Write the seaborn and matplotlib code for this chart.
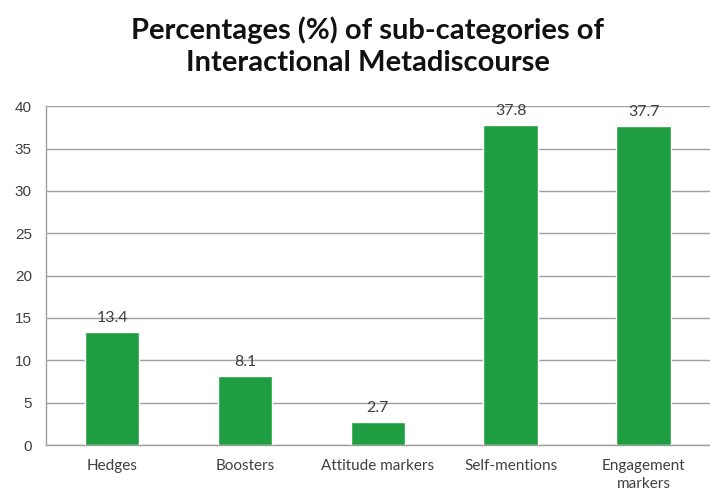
import matplotlib
matplotlib.use("Agg")
import matplotlib.pyplot as plt
import seaborn as sns
import pandas as pd

# Chart data
categories = ["Hedges", "Boosters", "Attitude markers", "Self-mentions", "Engagement\nmarkers"]
percentages = [13.4, 8.1, 2.7, 37.8, 37.7]
y_ticks = [0, 5, 10, 15, 20, 25, 30, 35, 40]

bar_color = "#1e9e40"
grid_color = "#a39e99"
text_color = "#404040"

sns.set_theme(style="white")
plt.rcParams["font.family"] = ["Lato", "DejaVu Sans"]

df = pd.DataFrame({"category": categories, "value": percentages})

fig = plt.figure(figsize=(7.1, 4.95), dpi=100)
ax = fig.add_axes([0.0644, 0.1010, 1.0 - 0.0644, 0.6843])

sns.barplot(data=df, x="category", y="value", color=bar_color, width=0.41,
            saturation=1, ax=ax, zorder=3)

ax.set_xlim(-0.5, 4.446)
ax.set_ylim(0, 40)
ax.set_yticks(y_ticks)
ax.set_yticklabels([str(t) for t in y_ticks], fontsize=11, color=text_color,
                   family=["Liberation Sans", "DejaVu Sans"])
ax.yaxis.grid(True, color=grid_color, linewidth=1, zorder=0)

# category labels centered, tick marks at category boundaries
ax.set_xticks(range(len(categories)))
ax.set_xticklabels(categories, fontsize=11, color=text_color, linespacing=1.35)
ax.set_xticks([i - 0.5 for i in range(len(categories) + 1)], minor=True)
ax.tick_params(axis="x", which="major", length=0, pad=10)
ax.tick_params(axis="x", which="minor", length=5, color=grid_color, width=1, direction="out")
ax.tick_params(axis="y", length=6, color=grid_color, width=1, direction="out", pad=4)
ax.set_xlabel("")
ax.set_ylabel("")

for side in ["top", "right"]:
    ax.spines[side].set_visible(False)
for side in ["left", "bottom"]:
    ax.spines[side].set_color(grid_color)
    ax.spines[side].set_linewidth(1)

for i, v in enumerate(percentages):
    ax.annotate(f"{v}", (i, v), xytext=(0, 5), textcoords="offset points",
                ha="center", va="bottom", fontsize=11.5, color=text_color)

fig.text(0.518, 0.907, "Percentages (%) of sub-categories of\nInteractional Metadiscourse",
         ha="center", va="center", fontsize=21, fontweight="bold", color="#111111",
         linespacing=1.3)

fig.savefig("out.png", dpi=100)
